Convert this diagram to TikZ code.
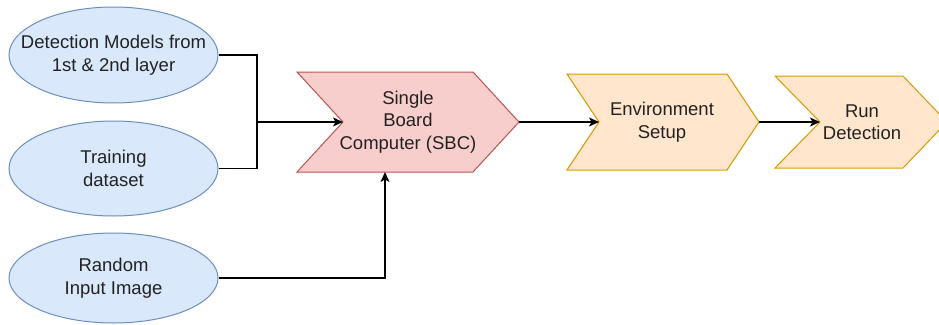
\documentclass[tikz,border=0pt]{standalone}
\usepackage{fontspec}
\setmainfont{Liberation Sans}
\usetikzlibrary{shapes.geometric,arrows.meta}
\definecolor{bluefill}{HTML}{DAE8FC}
\definecolor{bluedraw}{HTML}{6C8EBF}
\definecolor{redfill}{HTML}{F8CECC}
\definecolor{reddraw}{HTML}{B85450}
\definecolor{yelfill}{HTML}{FFE6CC}
\definecolor{yeldraw}{HTML}{D79B00}
\definecolor{txt}{HTML}{222222}
\tikzset{
  inbox/.style={ellipse,draw=bluedraw,fill=bluefill,line width=1pt,minimum width=209pt,inner sep=0pt},
  label/.style={align=center,text=txt,inner sep=0pt},
  conn/.style={line width=1.2pt,black},
  arr/.style={conn,-{Stealth[length=10pt,width=9pt,inset=2.5pt]}},
}
\begin{document}
\begin{tikzpicture}[x=1pt,y=-1pt,font=\fontsize{18.5}{22.5}\selectfont]
\useasboundingbox (0,0) rectangle (939,324);
% input ellipses
\node[inbox,minimum height=96pt] (e1) at (113.5,55) {};
\node[label] (t1) at (e1) {Detection Models from\\1st \& 2nd layer};
\node[inbox,minimum height=95pt] (e2) at (113.5,168.5) {};
\node[label] (t2) at (e2) {Training\\dataset};
\node[inbox,minimum height=90pt] (e3) at (113.5,278) {};
\node[label] (t3) at (e3) {Random\\Input Image};
% SBC chevron
\draw[draw=reddraw,fill=redfill,line width=1pt] (297,72) -- (473,72) -- (519,122) -- (473,172) -- (297,172) -- (343,122) -- cycle;
\coordinate (sbcN) at (343,122);
\coordinate (sbcT) at (519,122);
\coordinate (sbcB) at (385,172);
\node[label] (sbc) at (408,122) {Single\\Board\\Computer (SBC)};
% Environment setup chevron
\draw[draw=yeldraw,fill=yelfill,line width=1pt] (567,74) -- (727,74) -- (759,122) -- (727,170) -- (567,170) -- (599,122) -- cycle;
\coordinate (envN) at (599,122);
\coordinate (envT) at (759,122);
\node[label] (env) at (662,122) {Environment\\Setup};
% Run detection chevron
\draw[draw=yeldraw,fill=yelfill,line width=1pt] (775,76) -- (903,76) -- (947,122) -- (903,168) -- (775,168) -- (820,122) -- cycle;
\coordinate (runN) at (820,122);
\node[label] (run) at (862,122) {Run\\Detection};
% connectors
\coordinate (j) at (257,122);
\draw[conn] (e1.east) -| (j);
\draw[conn] (e2.east) -| (j);
\draw[arr] (j) -- (sbcN);
\draw[arr] (e3.east) -| (sbcB);
\draw[arr] (sbcT) -- (envN);
\draw[arr] (envT) -- (runN);
\end{tikzpicture}
\end{document}
